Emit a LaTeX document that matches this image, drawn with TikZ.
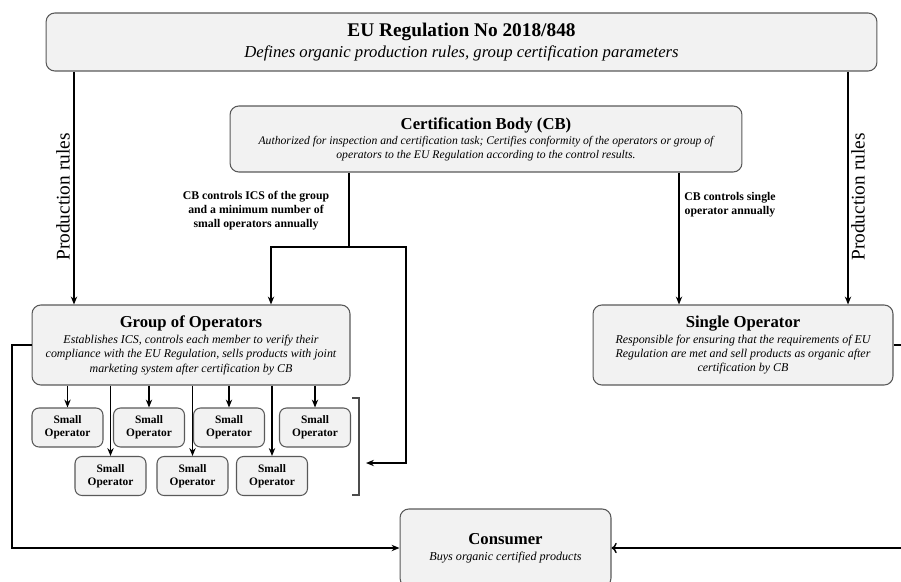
\documentclass[tikz,border=0pt]{standalone}
\usepackage{fontspec}
\setmainfont{Liberation Serif}
\usetikzlibrary{arrows.meta}

\begin{document}
\begin{tikzpicture}[
    x=0.02cm, y=-0.02cm,
    flow box/.style={draw=black!65, fill=black!5, line width=0.6pt, rounded corners=5pt, align=center, inner sep=1pt},
    small box/.style={flow box, rounded corners=4pt, minimum width=1.42cm, minimum height=0.78cm, font=\fontsize{6.5}{7.5}\selectfont\bfseries},
    body text/.style={font=\fontsize{6.8}{8.2}\selectfont\itshape},
    link/.style={draw=black, line width=0.8pt},
    link arrow/.style={link, -{Stealth[length=4.5pt, width=3.6pt]}},
    thin arrow/.style={link arrow, line width=0.6pt},
    open arrow/.style={link, -{To[length=3pt, width=6pt]}},
    rule label/.style={rotate=90, font=\fontsize{11}{13}\selectfont},
    ctrl label/.style={align=center, font=\fontsize{6.7}{8}\selectfont\bfseries}
]
\def\ttl#1{{\upshape\bfseries\fontsize{9.5}{11}\selectfont #1}}
\useasboundingbox (0,0) rectangle (901,581);

% Boxes
\node[flow box, minimum width=16.62cm, minimum height=1.16cm, font=\fontsize{9.5}{12}\selectfont\itshape] (eu) at (461.5,42)
    {{\upshape\bfseries\fontsize{11}{13}\selectfont EU Regulation No 2018/848}\\
     Defines organic production rules, group certification parameters};
\node[flow box, minimum width=10.24cm, minimum height=1.32cm, font=\fontsize{6.65}{7.8}\selectfont\itshape] (cb) at (486,139)
    {\ttl{Certification Body (CB)}\\[1pt]
     Authorized for inspection and certification task; Certifies conformity of the operators or group of\\
     operators to the EU Regulation according to the control results.};
\node[flow box, body text, minimum width=6.36cm, minimum height=1.6cm] (grp) at (191,345)
    {\ttl{Group of Operators}\\[1pt]
     Establishes ICS, controls each member to verify their\\
     compliance with the EU Regulation, sells products with joint\\
     marketing system after certification by CB};
\node[flow box, body text, minimum width=6cm, minimum height=1.6cm] (sop) at (743,345)
    {\ttl{Single Operator}\\[1pt]
     Responsible for ensuring that the requirements of EU\\
     Regulation are met and sell products as organic after\\
     certification by CB};
\node[flow box, minimum width=4.22cm, minimum height=1.56cm, font=\fontsize{6.9}{8.2}\selectfont\itshape] (cons) at (505.5,548)
    {\ttl{Consumer}\\[1pt]
     Buys organic certified products};

% Small operators
\foreach \name/\px/\py in {so1/67.5/427.5, so2/149/427.5, so3/229/427.5, so4/315/427.5,
                           so5/110.5/476, so6/192.5/476, so7/272/476} {
    \node[small box] (\name) at (\px,\py) {Small\\Operator};
}
\foreach \name in {so1,so2,so3,so4,so5,so6,so7} {
    \draw[thin arrow] (grp.south -| \name.north) -- (\name.north);
}

% Bracket round the small operators
\draw[draw=black!70, line width=0.6pt] (352,398) -- (359,398) -- (359,495) -- (352,495);

% Labels
\node[rule label] (prltext) at (63,197) {Production rules};
\node[rule label] (prrtext) at (858,197) {Production rules};
\node[ctrl label] (grpctrl) at (256,211) {CB controls ICS of the group\\and a minimum number of\\small operators annually};
\node[ctrl label] (sopctrl) at (730,205) {CB controls single\\operator annually};

% Connectors
\coordinate (prl) at (74,0);
\coordinate (prr) at (848,0);
\coordinate (split) at (349,247);
\coordinate (gdrop) at (271,247);
\coordinate (bdrop) at (406,247);
\coordinate (sdrop) at (679,0);
\coordinate (brk) at (366,463);
\coordinate (lx) at (12,0);
\coordinate (rx) at (905,0);

\draw[link arrow] (eu.south -| prl) -- (grp.north -| prl);
\draw[link arrow] (eu.south -| prr) -- (sop.north -| prr);
\draw[link] (cb.south -| split) -- (split);
\draw[link arrow] (split) -- (gdrop) -- (grp.north -| gdrop);
\draw[link arrow] (split) -- (bdrop) |- (brk);
\draw[link arrow] (cb.south -| sdrop) -- (sop.north -| sdrop);
\draw[link arrow] (grp.west) -- (grp.west -| lx) |- (cons.west);
\draw[open arrow] (sop.east) -- (sop.east -| rx) |- (cons.east);
\end{tikzpicture}
\end{document}
